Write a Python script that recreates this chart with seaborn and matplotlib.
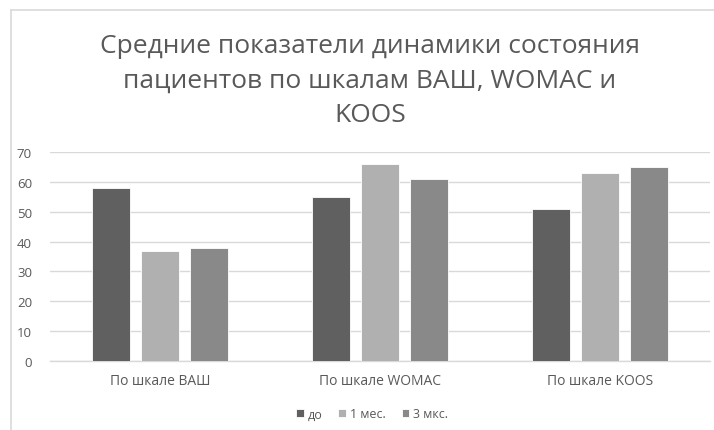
import matplotlib
matplotlib.use("Agg")
import matplotlib.pyplot as plt
from matplotlib.lines import Line2D
import seaborn as sns
import pandas as pd

# Chart data
categories = ["По шкале ВАШ", "По шкале WOMAC", "По шкале KOOS"]
series_names = ["до", "1 мес.", "3 мкс."]
values_before = [58, 55, 51]
values_1m = [37, 66, 63]
values_3m = [38, 61, 65]
y_ticks = [0, 10, 20, 30, 40, 50, 60, 70]
title = "Средние показатели динамики состояния\nпациентов по шкалам ВАШ, WOMAC и\nKOOS"

palette = ["#606060", "#b0b0b0", "#898989"]
text_color = "#595959"
grid_color = "#d9d9d9"

df = pd.DataFrame({
    "category": categories * 3,
    "series": [s for s in series_names for _ in categories],
    "value": values_before + values_1m + values_3m,
})

sns.set_theme(style="white")
plt.rcParams["font.family"] = ["Open Sans", "DejaVu Sans"]

fig = plt.figure(figsize=(7.14, 4.31), dpi=100)
ax = fig.add_axes([50 / 714, 69 / 431, 660 / 714, 209 / 431])

sns.barplot(
    data=df, x="category", y="value", hue="series",
    order=categories, hue_order=series_names, palette=palette,
    width=0.668, gap=0.225, saturation=1, ax=ax,
    edgecolor="white", linewidth=0.6, zorder=3, legend=True,
)

ax.set_xlim(-0.5, 2.5)
ax.set_ylim(0, 70)
ax.set_yticks(y_ticks)
ax.set_yticklabels([str(t) for t in y_ticks])
ax.yaxis.grid(True, color=grid_color, linewidth=1.0, zorder=0)
ax.set_axisbelow(True)
for side in ["left", "right", "top"]:
    ax.spines[side].set_visible(False)
ax.spines["bottom"].set_color(grid_color)
ax.spines["bottom"].set_linewidth(1.0)
ax.tick_params(axis="both", length=0, colors=text_color, labelsize=9.5)
ax.tick_params(axis="x", labelsize=10, pad=9)
ax.tick_params(axis="y", pad=13)
ax.set_xlabel("")
ax.set_ylabel("")

handles, labels = ax.get_legend_handles_labels()
ax.legend(
    handles, labels, loc="center", bbox_to_anchor=(372 / 714, 1 - 415 / 431),
    bbox_transform=fig.transFigure, ncol=3, frameon=False,
    handlelength=0.6, handleheight=0.6, handletextpad=0.3,
    columnspacing=1.3, fontsize=9, labelcolor=text_color,
)

fig.text(370 / 714, 1 - 81 / 431, title, ha="center", va="center",
         fontsize=19, color=text_color, linespacing=1.5)

# Chart area frame (left and top edges)
fig.add_artist(Line2D([11 / 714, 11 / 714], [0, 1 - 11 / 431],
                      transform=fig.transFigure, color=grid_color, linewidth=1.2))
fig.add_artist(Line2D([11 / 714, 1], [1 - 11 / 431, 1 - 11 / 431],
                      transform=fig.transFigure, color=grid_color, linewidth=1.2))

fig.savefig("out.png", dpi=100, facecolor="white")
